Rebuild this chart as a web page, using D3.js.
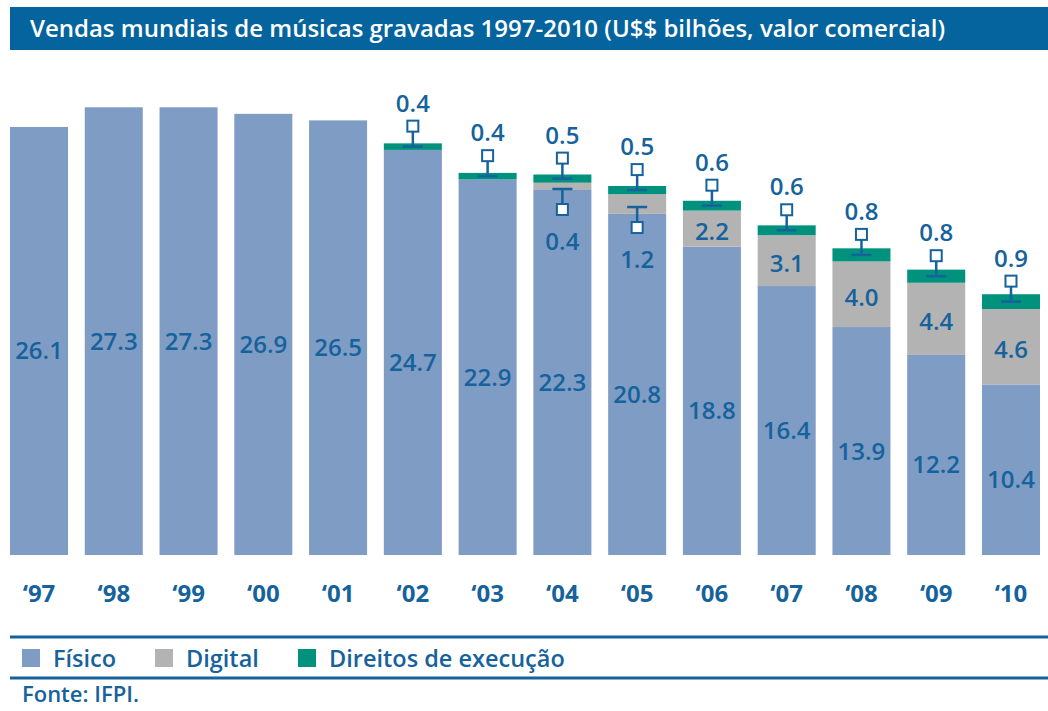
<!DOCTYPE html>
<html>
<head>
<meta charset="utf-8">
<script src="https://cdn.jsdelivr.net/npm/d3@7"></script>
<style>
  body { margin: 0; background: #fff; }
  svg { display: block; font-family: "Open Sans", "Noto Sans", sans-serif; }
</style>
</head>
<body>
<div id="chart"></div>
<script>
// data (US$ billions)
var years = ["97", "98", "99", "00", "01", "02", "03", "04", "05", "06", "07", "08", "09", "10"];
var fisico = [26.1, 27.3, 27.3, 26.9, 26.5, 24.7, 22.9, 22.3, 20.8, 18.8, 16.4, 13.9, 12.2, 10.4];
var digital = [0, 0, 0, 0, 0, 0, 0, 0.4, 1.2, 2.2, 3.1, 4.0, 4.4, 4.6];
var direitos = [0, 0, 0, 0, 0, 0.4, 0.4, 0.5, 0.5, 0.6, 0.6, 0.8, 0.8, 0.9];
// years where the digital value is shown with a callout below the bar top
var digitalCallout = ["04", "05"];

var seriesNames = ["Físico", "Digital", "Direitos de execução"];
var colors = ["#7f9dc4", "#b3b3b3", "#00927c"];
var textColor = "#15629c";
var titleText = "Vendas mundiais de músicas gravadas 1997-2010 (U$$ bilhões, valor comercial)";
var sourceText = "Fonte: IFPI.";

var W = 1048, H = 711;

var svg = d3.select("#chart").append("svg")
  .attr("width", W)
  .attr("height", H);

// title bar
svg.append("rect")
  .attr("x", 10).attr("y", 7)
  .attr("width", W - 10).attr("height", 43)
  .attr("fill", "#05649e");
svg.append("text")
  .attr("x", 30).attr("y", 37)
  .attr("fill", "#fff")
  .attr("font-size", 23)
  .attr("font-weight", 600)
  .attr("textLength", 915)
  .attr("lengthAdjust", "spacingAndGlyphs")
  .text(titleText);

var rows = years.map(function (y, i) {
  return { year: y, fisico: fisico[i], digital: digital[i], direitos: direitos[i] };
});

var x = d3.scaleBand()
  .domain(years)
  .range([10, 1040])
  .paddingInner(0.224)
  .paddingOuter(0);

var y = d3.scaleLinear()
  .domain([0, 30])
  .range([555, 63]);

var stack = d3.stack().keys(["fisico", "digital", "direitos"]);
var layers = stack(rows);

var g = svg.append("g");

g.selectAll("g.layer")
  .data(layers)
  .enter()
  .append("g")
  .attr("class", "layer")
  .attr("fill", function (d, i) { return colors[i]; })
  .selectAll("rect")
  .data(function (d) { return d; })
  .enter()
  .append("rect")
  .filter(function (d) { return d[1] > d[0]; })
  .attr("x", function (d) { return x(d.data.year); })
  .attr("y", function (d) { return y(d[1]); })
  .attr("width", x.bandwidth())
  .attr("height", function (d) { return y(d[0]) - y(d[1]); });

var cx = function (d) { return x(d.data.year) + x.bandwidth() / 2; };
var fmt = d3.format(".1f");
var labelSize = 24;

// physical value labels
g.selectAll("text.fis")
  .data(layers[0])
  .enter()
  .append("text")
  .attr("class", "fis")
  .attr("x", cx)
  .attr("y", function (d) { return (y(d[0]) + y(d[1])) / 2 + 9; })
  .attr("text-anchor", "middle")
  .attr("dominant-baseline", "central")
  .attr("font-size", labelSize)
  .attr("font-weight", 600)
  .attr("fill", textColor)
  .text(function (d) { return fmt(d.data.fisico); });

// digital labels inside the grey segment
g.selectAll("text.dig")
  .data(layers[1].filter(function (d) { return d.data.digital > 0 && digitalCallout.indexOf(d.data.year) < 0; }))
  .enter()
  .append("text")
  .attr("class", "dig")
  .attr("x", cx)
  .attr("y", function (d) { return (y(d[0]) + y(d[1])) / 2 + 2; })
  .attr("text-anchor", "middle")
  .attr("dominant-baseline", "central")
  .attr("font-size", labelSize)
  .attr("font-weight", 600)
  .attr("fill", textColor)
  .text(function (d) { return fmt(d.data.digital); });

var sq = 11, tick = 20;

// callout marker: tick at the segment, stem, hollow square
function marker(sel, tickY, dir) {
  sel.append("line")
    .attr("x1", function (d) { return cx(d) - tick / 2; })
    .attr("x2", function (d) { return cx(d) + tick / 2; })
    .attr("y1", tickY).attr("y2", tickY)
    .attr("stroke", textColor).attr("stroke-width", 2.5);
  sel.append("line")
    .attr("x1", cx).attr("x2", cx)
    .attr("y1", tickY)
    .attr("y2", function (d) { return tickY(d) + dir * 15; })
    .attr("stroke", textColor).attr("stroke-width", 2.5);
  sel.append("rect")
    .attr("x", function (d) { return cx(d) - sq / 2; })
    .attr("y", function (d) { return dir < 0 ? tickY(d) - 15 - sq : tickY(d) + 15; })
    .attr("width", sq).attr("height", sq)
    .attr("fill", "#fff")
    .attr("stroke", textColor).attr("stroke-width", 2);
}

// performance rights callouts above the bars
var topMid = function (d) { return (y(d[0]) + y(d[1])) / 2; };
var dirG = g.selectAll("g.dir")
  .data(layers[2].filter(function (d) { return d.data.direitos > 0; }))
  .enter()
  .append("g")
  .attr("class", "dir");
marker(dirG, topMid, -1);
dirG.append("text")
  .attr("x", cx)
  .attr("y", function (d) { return topMid(d) - 15 - sq - 9; })
  .attr("text-anchor", "middle")
  .attr("font-size", labelSize)
  .attr("font-weight", 600)
  .attr("fill", textColor)
  .text(function (d) { return fmt(d.data.direitos); });

// digital callouts below the bar top
var digG = g.selectAll("g.digc")
  .data(layers[1].filter(function (d) { return digitalCallout.indexOf(d.data.year) >= 0; }))
  .enter()
  .append("g")
  .attr("class", "digc");
var digTick = function (d) { return (y(d[0]) + y(d[1])) / 2 + 3; };
marker(digG, digTick, 1);
digG.append("text")
  .attr("x", cx)
  .attr("y", function (d) { return digTick(d) + 15 + sq + 14; })
  .attr("text-anchor", "middle")
  .attr("dominant-baseline", "hanging")
  .attr("font-size", labelSize)
  .attr("font-weight", 600)
  .attr("fill", textColor)
  .text(function (d) { return fmt(d.data.digital); });

// year axis
var xAxis = svg.append("g")
  .attr("transform", "translate(0,585)")
  .call(d3.axisBottom(x).tickSize(0).tickPadding(0).tickFormat(function (d) { return "\u2018" + d; }));
xAxis.select(".domain").remove();
xAxis.selectAll("text")
  .attr("font-family", "\"Open Sans\", \"Noto Sans\", sans-serif")
  .attr("font-size", 24)
  .attr("font-weight", 700)
  .attr("fill", textColor);

// legend rules
[637, 678].forEach(function (ly) {
  svg.append("line")
    .attr("x1", 10).attr("x2", W)
    .attr("y1", ly).attr("y2", ly)
    .attr("stroke", "#15629c").attr("stroke-width", 3);
});

var legendX = [22, 155, 298];
var leg = svg.selectAll("g.leg")
  .data(seriesNames)
  .enter()
  .append("g")
  .attr("class", "leg")
  .attr("transform", function (d, i) { return "translate(" + legendX[i] + ",649)"; });
leg.append("rect")
  .attr("width", 18).attr("height", 18)
  .attr("fill", function (d, i) { return colors[i]; });
leg.append("text")
  .attr("x", 31).attr("y", 9)
  .attr("dominant-baseline", "central")
  .attr("font-size", 23.5)
  .attr("font-weight", 600)
  .attr("fill", textColor)
  .text(function (d) { return d; });

svg.append("text")
  .attr("x", 22).attr("y", 702)
  .attr("font-size", 22)
  .attr("font-weight", 600)
  .attr("fill", textColor)
  .text(sourceText);
</script>
</body>
</html>
